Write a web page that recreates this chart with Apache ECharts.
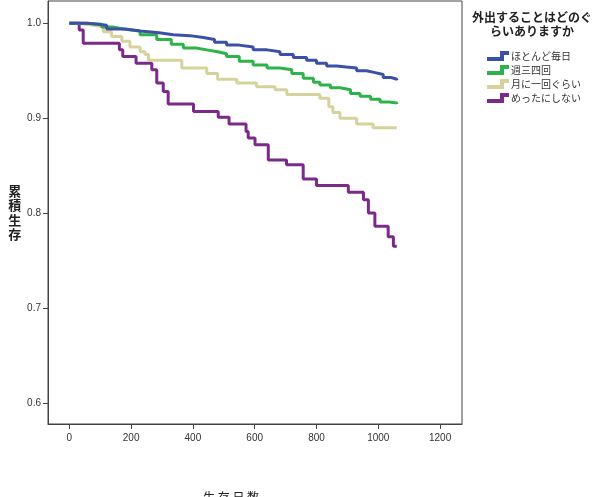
<!DOCTYPE html>
<html>
<head>
<meta charset="utf-8">
<script src="https://cdn.jsdelivr.net/npm/echarts@6/dist/echarts.min.js"></script>
<style>
  html, body { margin: 0; padding: 0; background: #fff; }
  #main { width: 597px; height: 497px; }
</style>
</head>
<body>
<div id="main"></div>
<script>
// 凡例の名前
const groupNames = ["ほとんど毎日", "週三四回", "月に一回ぐらい", "めったにしない"];
const groupColors = ["#3b50a6", "#2eb34b", "#d5d29b", "#7b2a89"];

// 生存日数（下がる時点）と累積生存
const dailyDays = [0, 60, 121, 180, 229, 290, 337, 390, 434, 470, 509, 550, 595, 640, 682, 725, 768, 800, 833, 865, 897, 930, 962, 990, 1016, 1040, 1060];
const dailySurv = [1.0, 0.998, 0.994, 0.992, 0.990, 0.988, 0.987, 0.985, 0.983, 0.980, 0.977, 0.975, 0.972, 0.970, 0.967, 0.964, 0.961, 0.958, 0.955, 0.954, 0.953, 0.950, 0.948, 0.946, 0.943, 0.941, 0.940];

const weeklyDays = [0, 50, 105, 140, 175, 229, 283, 330, 369, 410, 445, 480, 509, 550, 595, 640, 682, 720, 757, 790, 811, 845, 876, 910, 941, 975, 1006, 1035, 1060];
const weeklySurv = [1.0, 0.999, 0.996, 0.994, 0.992, 0.988, 0.983, 0.978, 0.974, 0.972, 0.970, 0.968, 0.965, 0.960, 0.956, 0.953, 0.951, 0.947, 0.942, 0.938, 0.935, 0.932, 0.930, 0.926, 0.923, 0.920, 0.917, 0.916, 0.915];

const monthlyDays = [0, 25, 80, 110, 137, 170, 196, 229, 245, 256, 364, 445, 480, 542, 606, 666, 704, 811, 840, 853, 876, 930, 983, 1060];
const monthlySurv = [1.0, 0.998, 0.996, 0.991, 0.986, 0.981, 0.975, 0.970, 0.967, 0.961, 0.953, 0.947, 0.941, 0.937, 0.933, 0.930, 0.925, 0.921, 0.912, 0.906, 0.900, 0.894, 0.890, 0.890];

const rarelyDays = [0, 32, 45, 162, 173, 216, 267, 283, 304, 320, 402, 482, 517, 572, 579, 601, 644, 703, 757, 800, 903, 952, 968, 989, 1032, 1049, 1060];
const rarelySurv = [1.0, 0.993, 0.979, 0.972, 0.965, 0.958, 0.951, 0.937, 0.928, 0.915, 0.907, 0.901, 0.894, 0.886, 0.879, 0.872, 0.856, 0.851, 0.836, 0.829, 0.822, 0.814, 0.800, 0.786, 0.775, 0.765, 0.765];

const xTicks = [0, 200, 400, 600, 800, 1000, 1200];
const yTicks = [0.6, 0.7, 0.8, 0.9, 1.0];

const groupDays = [dailyDays, weeklyDays, monthlyDays, rarelyDays];
const groupSurv = [dailySurv, weeklySurv, monthlySurv, rarelySurv];

const jpFont = '"Noto Sans CJK JP", sans-serif';
const numFont = '"Liberation Sans", Arial, sans-serif';

// 凡例の階段アイコン
const stepIcon = 'path://M0,6 L13,6 L13,0 L22,0 L22,4 L17,4 L17,10 L0,10 Z';

const chart = echarts.init(document.getElementById("main"));

const series = groupNames.map((name, i) => ({
  name: name,
  type: "line",
  step: "end",
  symbol: "none",
  lineStyle: { color: groupColors[i], width: 3 },
  itemStyle: { color: groupColors[i] },
  data: groupDays[i].map((d, j) => [d, groupSurv[i][j]]),
  z: 10 - i,
}));

chart.setOption({
  animation: false,
  backgroundColor: "#fff",
  grid: {
    left: 48, right: 135, top: 1, bottom: 73,
    show: true, borderColor: "#444", borderWidth: 1,
  },
  legend: {
    orient: "vertical",
    left: 482, top: 46,
    itemWidth: 22, itemHeight: 10, itemGap: 4,
    icon: stepIcon,
    textStyle: { fontSize: 10, color: "#333", fontFamily: jpFont, padding: [0, 0, 0, -3] },
    data: groupNames,
  },
  graphic: [
    {
      type: "text",
      x: 532, y: 10,
      style: {
        text: "外出することはどのぐ\nらいありますか",
        textAlign: "center",
        font: "bold 12px " + jpFont,
        lineHeight: 14,
        fill: "#222",
      },
    },
    {
      type: "text",
      x: 203, y: 491,
      style: {
        text: "生 存 日 数",
        font: "12px " + jpFont,
        fill: "#222",
      },
    },
  ],
  xAxis: {
    type: "value",
    min: -69, max: 1271,
    axisLine: { show: true, onZero: false, lineStyle: { color: "#444", width: 1 } },
    axisTick: { show: true, length: 5, customValues: xTicks, lineStyle: { color: "#444" } },
    axisLabel: {
      customValues: xTicks, fontSize: 10, color: "#333", fontFamily: numFont, margin: 9,
      formatter: (v) => String(v),
    },
    splitLine: { show: false },
  },
  yAxis: {
    type: "value",
    min: 0.5777, max: 1.0235,
    name: "累\n積\n生\n存",
    nameLocation: "middle",
    nameRotate: 0,
    nameGap: 24,
    nameTextStyle: { fontSize: 13, fontWeight: "bold", color: "#222", fontFamily: jpFont, lineHeight: 14.5 },
    axisLine: { show: true, onZero: false, lineStyle: { color: "#444", width: 1 } },
    axisTick: { show: true, length: 5, customValues: yTicks, lineStyle: { color: "#444" } },
    axisLabel: {
      customValues: yTicks, fontSize: 10, color: "#333", fontFamily: numFont, margin: 7,
      formatter: (v) => v.toFixed(1),
    },
    splitLine: { show: false },
  },
  series: series,
});
</script>
</body>
</html>
